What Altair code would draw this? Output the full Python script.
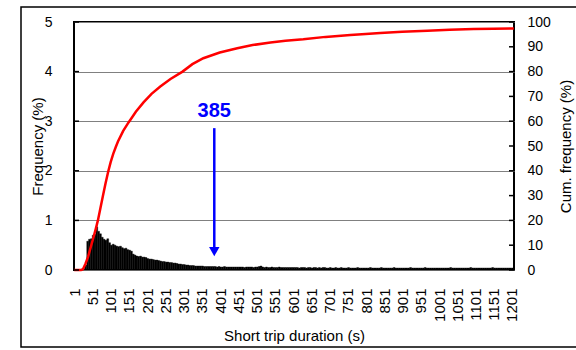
import altair as alt
import pandas as pd

# Frequency (%) per 5-second bin, bins starting at 1, 6, 11, ... , 1201
freq_rows = [
    # 1 - 96
    [0, 0, 0, 0, 0.01, 0.03, 0.1, 0.58, 0.62, 0.63, 0.7, 0.72, 0.87, 0.78, 0.73, 0.66, 0.62, 0.6, 0.63, 0.55],
    # 101 - 196
    [0.5, 0.52, 0.5, 0.48, 0.47, 0.48, 0.45, 0.43, 0.44, 0.41, 0.4, 0.38, 0.32, 0.3, 0.28, 0.27, 0.28, 0.26, 0.26, 0.25],
    # 201 - 296
    [0.23, 0.22, 0.22, 0.21, 0.2, 0.2, 0.19, 0.18, 0.17, 0.17, 0.16, 0.16, 0.15, 0.15, 0.14, 0.14, 0.13, 0.12, 0.12, 0.11],
    # 301 - 396
    [0.11, 0.1, 0.1, 0.09, 0.09, 0.09, 0.08, 0.08, 0.08, 0.08, 0.08, 0.07, 0.07, 0.07, 0.07, 0.07, 0.07, 0.07, 0.06, 0.07],
    # 401 - 496
    [0.06, 0.06, 0.07, 0.06, 0.06, 0.06, 0.06, 0.06, 0.06, 0.06, 0.06, 0.06, 0.06, 0.05, 0.06, 0.06, 0.06, 0.06, 0.05, 0.06],
    # 501 - 596
    [0.06, 0.07, 0.08, 0.06, 0.05, 0.06, 0.05, 0.05, 0.06, 0.05, 0.05, 0.05, 0.06, 0.05, 0.05, 0.05, 0.05, 0.05, 0.05, 0.05],
    # 601 - 696
    [0.05, 0.05, 0.05, 0.04, 0.05, 0.05, 0.05, 0.04, 0.05, 0.05, 0.04, 0.05, 0.05, 0.04, 0.05, 0.04, 0.05, 0.05, 0.04, 0.04],
    # 701 - 796
    [0.05, 0.04, 0.04, 0.05, 0.04, 0.04, 0.05, 0.04, 0.04, 0.04, 0.05, 0.04, 0.04, 0.04, 0.04, 0.05, 0.04, 0.04, 0.04, 0.04],
    # 801 - 896
    [0.04, 0.04, 0.05, 0.04, 0.04, 0.04, 0.04, 0.04, 0.05, 0.04, 0.04, 0.04, 0.04, 0.04, 0.04, 0.05, 0.04, 0.04, 0.04, 0.04],
    # 901 - 996
    [0.04, 0.04, 0.04, 0.04, 0.05, 0.04, 0.04, 0.04, 0.04, 0.04, 0.04, 0.04, 0.05, 0.04, 0.04, 0.04, 0.04, 0.04, 0.04, 0.04],
    # 1001 - 1096
    [0.04, 0.04, 0.04, 0.04, 0.04, 0.04, 0.05, 0.04, 0.04, 0.04, 0.04, 0.04, 0.04, 0.04, 0.04, 0.04, 0.04, 0.05, 0.04, 0.04],
    # 1101 - 1196
    [0.04, 0.04, 0.04, 0.04, 0.04, 0.04, 0.04, 0.04, 0.04, 0.05, 0.04, 0.04, 0.04, 0.04, 0.04, 0.04, 0.04, 0.04, 0.04, 0.04],
    # 1201
    [0.04],
]
freq = [v for row in freq_rows for v in row]
bin_start = [1 + 5 * i for i in range(len(freq))]

# Cumulative frequency (%)
cum_s = [1, 20, 25, 32, 39, 46, 53, 60, 66, 73, 80, 87, 94, 101, 108, 115, 121, 135, 150, 158, 170,
         191, 213, 237, 265, 298, 325, 355, 400, 448, 490, 539, 580, 629, 690, 758, 800, 840,
         900, 969, 1030, 1096, 1150, 1206]
cum_pct = [0, 0, 0.3, 2.5, 5.3, 9, 12.7, 16.5, 20, 25, 30, 35, 39.5, 43.5, 46.8, 49.6, 51.8, 56, 59.5, 61.2, 63.8,
           67.6, 71, 74, 77, 80, 83, 85.4, 87.7, 89.4, 90.7, 91.7, 92.4, 93, 94, 94.8, 95.2, 95.6,
           96.1, 96.5, 96.9, 97.2, 97.3, 97.4]

x_ticks = list(range(1, 1202, 50))
left_ticks = [0, 1, 2, 3, 4, 5]
right_ticks = list(range(0, 101, 10))

annot_x = 385
annot_label = "385"

FONT = "Liberation Sans"
W, H = 440, 248

bars_df = pd.DataFrame({
    "start": [s - 0.5 for s in bin_start],
    "end": [s + 4.5 for s in bin_start],
    "freq": freq,
    "zero": [0] * len(freq),
})
cum_df = pd.DataFrame({"s": cum_s, "cum": cum_pct})

xscale = alt.Scale(domain=[0.5, 1206.5], nice=False, zero=False)
yl = alt.Scale(domain=[0, 5], nice=False)
yr = alt.Scale(domain=[0, 100], nice=False)


def x_axis():
    return alt.Axis(values=x_ticks, labelAngle=270, labelFlush=False, labelOverlap=False,
                    labelBound=False, format="d", ticks=False, tickSize=0,
                    domain=False, grid=False, labelPadding=18, labelFontSize=15,
                    title="Short trip duration (s)", titleFontSize=15, titleFontWeight="normal",
                    titleY=65, titleBaseline="middle")


bars = alt.Chart(bars_df).mark_bar(color="black", stroke="black", strokeWidth=0.4).encode(
    x=alt.X("start:Q", scale=xscale, axis=x_axis()),
    x2="end:Q",
    y=alt.Y("freq:Q", scale=yl,
            axis=alt.Axis(values=left_ticks, grid=True, gridColor="#808080", gridWidth=1,
                          ticks=False, tickSize=0, domain=False, labelPadding=22, labelFontSize=14,
                          labelFlush=False,
                          title="Frequency (%)", titleFontSize=15, titleFontWeight="normal",
                          titleAngle=270, titleX=-37, titleY=H / 2, titleAlign="center",
                          titleBaseline="middle")),
    y2="zero:Q",
)

line = alt.Chart(cum_df).mark_line(color="#FF0000", strokeWidth=2.5).encode(
    x=alt.X("s:Q", scale=xscale, axis=x_axis()),
    y=alt.Y("cum:Q", scale=yr,
            axis=alt.Axis(orient="right", values=right_ticks, grid=False, ticks=False, tickSize=0,
                          domain=False, labelPadding=13, labelFontSize=14, labelFlush=False,
                          title="Cum. frequency (%)", titleFontSize=15, titleFontWeight="normal",
                          titleAngle=270, titleX=51, titleY=H / 2, titleAlign="center",
                          titleBaseline="middle")),
)

lt_df = pd.DataFrame({"v": left_ticks})
left_tk = alt.Chart(lt_df).mark_rule(color="black", strokeWidth=1.5).encode(
    x=alt.value(0), x2=alt.value(5), y=alt.Y("v:Q", scale=yl, axis=None))

rt_df = pd.DataFrame({"v": right_ticks})
right_tk = alt.Chart(rt_df).mark_rule(color="black", strokeWidth=1.5).encode(
    x=alt.value(W - 5), x2=alt.value(W), y=alt.Y("v:Q", scale=yr, axis=None))

arr_df = pd.DataFrame({"x": [annot_x], "y1": [2.86], "y2": [0.44], "yh": [0.37], "yt": [3.2],
                       "t": [annot_label]})
arrow = alt.Chart(arr_df).mark_rule(color="#0000FF", strokeWidth=2.5).encode(
    x=alt.X("x:Q", scale=xscale, axis=x_axis()), y=alt.Y("y1:Q", scale=yl, axis=None), y2="y2:Q")
head = alt.Chart(arr_df).mark_point(shape="triangle-down", filled=True, color="#0000FF",
                                    opacity=1, size=110).encode(
    x=alt.X("x:Q", scale=xscale, axis=x_axis()), y=alt.Y("yh:Q", scale=yl, axis=None))
label = alt.Chart(arr_df).mark_text(color="#0000FF", fontSize=20, fontWeight="bold", font=FONT,
                                    baseline="middle", align="center").encode(
    x=alt.X("x:Q", scale=xscale, axis=x_axis()), y=alt.Y("yt:Q", scale=yl, axis=None), text="t:N")

frame = alt.Chart(pd.DataFrame({"a": [0]})).mark_rect(fill=None, stroke="black", strokeWidth=1.5).encode(
    x=alt.value(-53), x2=alt.value(530), y=alt.value(-15), y2=alt.value(325))

chart = alt.layer(bars, line, left_tk, right_tk, arrow, head, label, frame).resolve_scale(
    y="independent"
).properties(
    width=W, height=H,
    autosize=alt.AutoSizeParams(type="none"),
    padding={"left": 74, "top": 22, "right": 62, "bottom": 80},
    background="white",
).configure_view(
    stroke="black", strokeWidth=2
).configure_axis(
    labelFont=FONT, titleFont=FONT, labelColor="black", titleColor="black"
).configure_axisX(
    labelOverlap=False
)

chart.save("out.html", embed_options={"renderer": "svg", "actions": False})
